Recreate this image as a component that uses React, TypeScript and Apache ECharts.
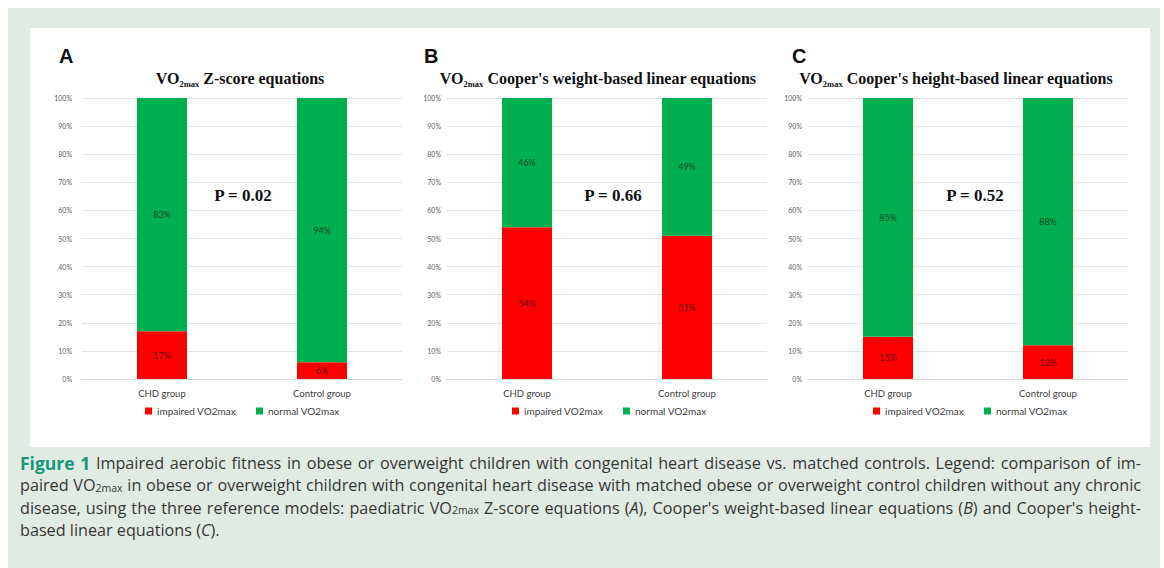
import React, { useEffect, useRef } from "react";
import * as echarts from "echarts";

const categories = ["CHD group", "Control group"];
const seriesNames = ["impaired VO2max", "normal VO2max"];
const panelLetters = ["A", "B", "C"];
const panelTitles = [
  "Z-score equations",
  "Cooper's weight-based linear equations",
  "Cooper's height-based linear equations",
];
const pValues = ["P = 0.02", "P = 0.66", "P = 0.52"];
const impairedA = [17, 6];
const normalA = [83, 94];
const impairedB = [54, 51];
const normalB = [46, 49];
const impairedC = [15, 12];
const normalC = [85, 88];
const yMin = 0;
const yMax = 100;
const yStep = 10;

const captionLines = [
  "{fig|Figure 1} {t|Impaired aerobic fitness in obese or overweight children with congenital heart disease vs. matched controls. Legend: comparison of im-}",
  "{t|paired VO}{s|2max}{t| in obese or overweight children with congenital heart disease with matched obese or overweight control children without any chronic}",
  "{t|disease, using the three reference models: paediatric VO}{s|2max}{t| Z-score equations (}{i|A}{t|), Cooper's weight-based linear equations (}{i|B}{t|) and Cooper's height-}",
  "{t|based linear equations (}{i|C}{t|).}",
];

const RED = "#ff0000";
const GREEN = "#00b050";
const CAP_FONT = "'Open Sans', sans-serif";
const CAP_STYLES: Record<string, any> = {
  fig: { fontFamily: CAP_FONT, fontWeight: "bold", fontStyle: "normal", fontSize: 17.5, fill: "#17977a" },
  t: { fontFamily: CAP_FONT, fontWeight: "normal", fontStyle: "normal", fontSize: 16.2, fill: "#363636" },
  i: { fontFamily: CAP_FONT, fontWeight: "normal", fontStyle: "italic", fontSize: 16.2, fill: "#363636" },
  s: { fontFamily: CAP_FONT, fontWeight: "normal", fontStyle: "normal", fontSize: 10.5, fill: "#363636", lineHeight: 10, verticalAlign: "bottom" },
};

type Seg = { style: string; text: string };

function parseLine(line: string): Seg[][] {
  const segs: Seg[] = [];
  const re = /\{(\w+)\|([^}]*)\}|([^{]+)/g;
  let m: RegExpExecArray | null;
  while ((m = re.exec(line))) {
    if (m[1]) segs.push({ style: m[1], text: m[2] });
    else segs.push({ style: "t", text: m[3] });
  }
  const words: Seg[][] = [];
  let cur: Seg[] = [];
  segs.forEach((s) => {
    const parts = s.text.split(" ");
    parts.forEach((p, idx) => {
      if (idx > 0) {
        if (cur.length) words.push(cur);
        cur = [];
      }
      if (p.length) cur.push({ style: s.style, text: p });
    });
  });
  if (cur.length) words.push(cur);
  return words;
}

export default function App() {
  const ref = useRef<HTMLDivElement>(null);
  useEffect(() => {
    if (!ref.current) return;
    const chart = echarts.init(ref.current, undefined, { renderer: "svg" });
    const canvas = document.createElement("canvas");
    const ctx = canvas.getContext("2d")!;
    const measure = (s: Seg) => {
      const st = CAP_STYLES[s.style];
      ctx.font = `${st.fontStyle} ${st.fontWeight} ${st.fontSize}px ${st.fontFamily}`;
      return ctx.measureText(s.text).width;
    };

    const grids = [
      { left: 82, top: 98, width: 320, height: 281 },
      { left: 447, top: 98, width: 320, height: 281 },
      { left: 808, top: 98, width: 320, height: 281 },
    ];
    const data = [
      [impairedA, normalA],
      [impairedB, normalB],
      [impairedC, normalC],
    ];
    const centers = [235, 593, 951];
    const pCenters = [238, 608, 970];
    const legendCenters = [240, 607, 968];
    const letterX = [54, 419, 787];

    const serifFont = "'Liberation Serif', 'DejaVu Serif', serif";
    const labelStyle = {
      show: true,
      position: "inside",
      fontSize: 9,
      fontFamily: "Lato, sans-serif",
      formatter: "{c}%",
    };

    const series: any[] = [];
    data.forEach((pair, gi) => {
      pair.forEach((vals, si) => {
        series.push({
          type: "bar",
          name: seriesNames[si],
          stack: "s" + gi,
          xAxisIndex: gi,
          yAxisIndex: gi,
          barWidth: 50,
          data: vals,
          itemStyle: { color: si === 0 ? RED : GREEN },
          label: { ...labelStyle, color: si === 0 ? "#5a1010" : "#1d4a2a" },
        });
      });
    });

    const titles: any[] = [];
    panelTitles.forEach((t, i) => {
      titles.push({
        text: "{a|VO}{s|2max}{a| " + t + "}",
        left: centers[i],
        top: 64,
        textAlign: "center",
        textStyle: {
          rich: {
            a: { fontFamily: serifFont, fontWeight: "bold", fontSize: 16, color: "#111", lineHeight: 19, verticalAlign: "middle" },
            s: { fontFamily: serifFont, fontWeight: "bold", fontSize: 8.5, color: "#111", lineHeight: 8, verticalAlign: "bottom" },
          },
        },
      });
      titles.push({
        text: panelLetters[i],
        left: letterX[i],
        top: 41,
        textStyle: { fontFamily: "'Liberation Sans', Arial, sans-serif", fontWeight: "bold", fontSize: 20, color: "#111" },
      });
      titles.push({
        text: pValues[i],
        left: pCenters[i],
        top: 182,
        textAlign: "center",
        textStyle: { fontFamily: serifFont, fontWeight: "bold", fontSize: 17, color: "#111" },
      });
    });

    // caption, justified between x0 and x1
    const x0 = 20;
    const x1 = 1141;
    const captionGraphics: any[] = [];
    captionLines.forEach((line, li) => {
      const words = parseLine(line);
      const widths = words.map((w) => w.reduce((a, s) => a + measure(s), 0));
      const total = widths.reduce((a, b) => a + b, 0);
      const justify = li < captionLines.length - 1;
      const gap = justify ? (x1 - x0 - total) / (words.length - 1) : measure({ style: "t", text: " " });
      let x = x0;
      const y = 463 + li * 22.3;
      words.forEach((w, wi) => {
        captionGraphics.push({
          type: "text",
          x,
          y,
          silent: true,
          style: {
            text: w.map((s) => `{${s.style}|${s.text}}`).join(""),
            verticalAlign: "middle",
            rich: CAP_STYLES,
          },
        });
        x += widths[wi] + gap;
      });
    });

    const option: any = {
      animation: false,
      title: titles,
      grid: grids,
      legend: legendCenters.map((c) => ({
        data: seriesNames,
        left: c - 100,
        top: 401,
        itemWidth: 7,
        itemHeight: 7,
        itemGap: 20,
        icon: "rect",
        textStyle: { fontSize: 10, color: "#404040", fontFamily: "Lato, sans-serif" },
      })),
      xAxis: grids.map((_, i) => ({
        type: "category",
        gridIndex: i,
        data: categories,
        axisLine: { lineStyle: { color: "#d9d9d9" } },
        axisTick: { show: false },
        axisLabel: { fontSize: 9.5, color: "#404040", margin: 9, fontFamily: "Lato, sans-serif" },
      })),
      yAxis: grids.map((_, i) => ({
        type: "value",
        gridIndex: i,
        min: yMin,
        max: yMax,
        interval: yStep,
        axisLine: { show: false },
        axisTick: { show: false },
        splitLine: { lineStyle: { color: "#e3e3e3" } },
        axisLabel: { fontSize: 7, color: "#606060", formatter: "{value}%", margin: i === 0 ? 10 : 6, fontFamily: "Lato, sans-serif" },
      })),
      series,
      graphic: [
        { type: "rect", z: -10, silent: true, shape: { x: 0, y: 0, width: 1164, height: 568 }, style: { fill: "#ffffff" } },
        { type: "rect", z: -9, silent: true, shape: { x: 8, y: 8, width: 1152, height: 560 }, style: { fill: "#e2ebe3" } },
        { type: "rect", z: -8, silent: true, shape: { x: 30, y: 28, width: 1120, height: 419 }, style: { fill: "#ffffff" } },
        ...captionGraphics,
      ],
    };
    chart.setOption(option);
    return () => chart.dispose();
  }, []);
  return <div ref={ref} style={{ position: "absolute", left: 0, top: 0, width: 1164, height: 568 }} />;
}
